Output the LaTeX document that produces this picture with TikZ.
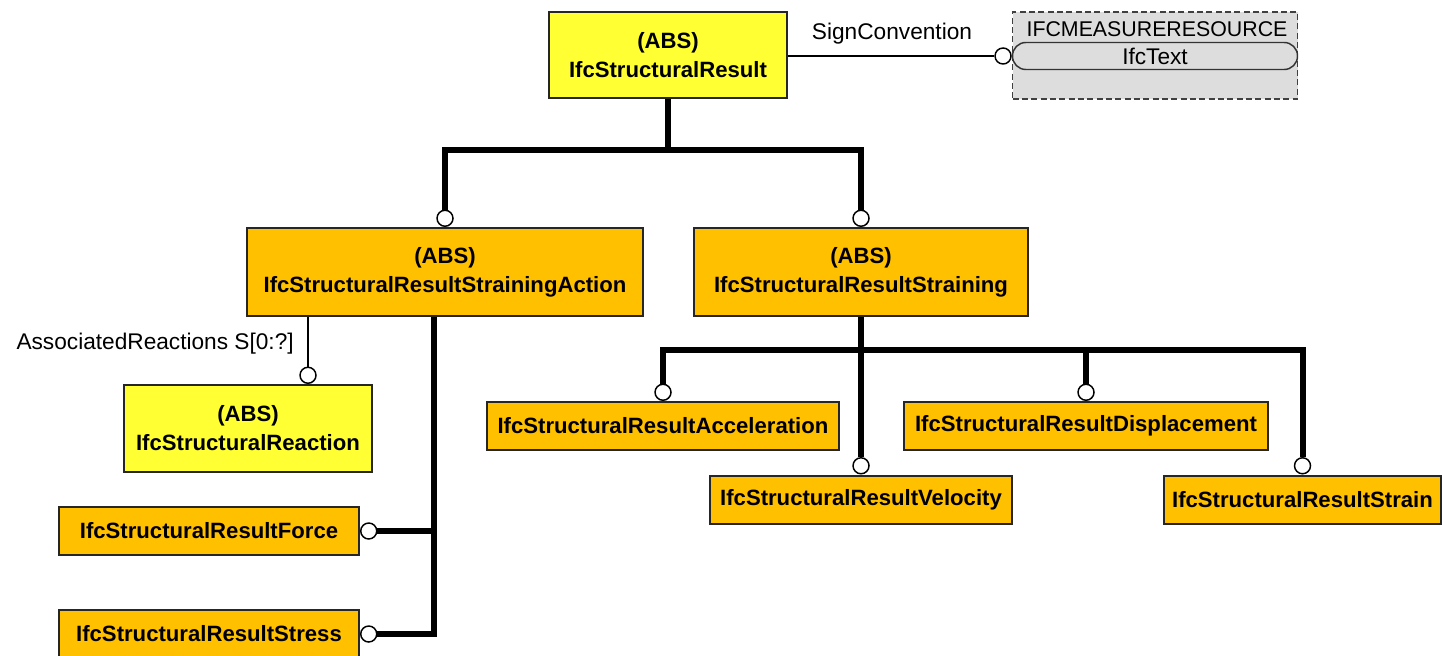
\documentclass[tikz,border=0pt]{standalone}
\usepackage{fontspec}
\setmainfont{Liberation Sans}
\definecolor{absyellow}{RGB}{255,255,51}
\definecolor{entorange}{RGB}{255,192,0}
\definecolor{extgray}{RGB}{221,221,221}
\begin{document}
\begin{tikzpicture}[x=0.75pt,y=-0.75pt,
 ent/.style={draw=black!85, line width=1.5pt, fill=entorange, font=\fontsize{16.6}{21.75}\selectfont\bfseries, align=center, inner sep=0pt},
 absent/.style={ent, fill=absyellow},
 bus/.style={line width=4.5pt},
 rel/.style={line width=1.1pt},
 port/.style={circle, draw, fill=white, line width=1.1pt, minimum size=12pt, inner sep=0pt},
 lbl/.style={font=\fontsize{17}{20}\selectfont, inner sep=0pt}]
\clip (0,0) rectangle (1442,656);
\fill[white] (0,0) rectangle (1442,656);
% external schema
\node[draw=black!75, dash pattern=on 4.5pt off 2.5pt, line width=1.2pt, fill=extgray, minimum width=213.75pt, minimum height=65.25pt, inner sep=0pt] (Ext) at (1155,55.5) {};
\node[lbl, font=\fontsize{16}{18}\selectfont] (ExtLbl) at (1157,29) {IFCMEASURERESOURCE};
\node[draw=black!80, line width=1.1pt, rounded corners=10pt, minimum width=213.75pt, minimum height=20.25pt, inner sep=0pt, font=\fontsize{17}{20}\selectfont] (Txt) at (1155,56) {IfcText};
% entities
\node[absent, minimum width=178.5pt, minimum height=64.5pt] (Root) at (668,55) {(ABS)\\IfcStructuralResult};
\node[ent, minimum width=297pt, minimum height=66pt] (SA) at (445,272) {(ABS)\\IfcStructuralResultStrainingAction};
\node[ent, minimum width=250.5pt, minimum height=66pt] (ST) at (861,272) {(ABS)\\IfcStructuralResultStraining};
\node[absent, minimum width=186pt, minimum height=65.25pt] (Rea) at (248,428.5) {(ABS)\\IfcStructuralReaction};
\node[ent, minimum width=225pt, minimum height=36pt] (For) at (209,531) {IfcStructuralResultForce};
\node[ent, minimum width=225pt, minimum height=36pt] (Str) at (209,634) {IfcStructuralResultStress};
\node[ent, minimum width=264pt, minimum height=36pt] (Acc) at (663,426) {IfcStructuralResultAcceleration};
\node[ent, minimum width=226.5pt, minimum height=36pt] (Vel) at (861,499.5) {IfcStructuralResultVelocity};
\node[ent, minimum width=273pt, minimum height=36pt] (Dis) at (1086,426) {IfcStructuralResultDisplacement};
\node[ent, minimum width=207.75pt, minimum height=36pt] (Stn) at (1302.5,499.5) {IfcStructuralResultStrain};
% ports
\coordinate (rx) at (308,0);
\coordinate (sx) at (434,0);
\node[port, anchor=east] (pE) at (Txt.west) {};
\node[port, anchor=south] (pSA) at (SA.north) {};
\node[port, anchor=south] (pST) at (ST.north) {};
\node[port, anchor=south] (pR) at (Rea.north -| rx) {};
\node[port, anchor=west] (pF) at (For.east) {};
\node[port, anchor=west] (pS) at (Str.east) {};
\node[port, anchor=south] (pA) at (Acc.north) {};
\node[port, anchor=south] (pV) at (Vel.north) {};
\node[port, anchor=south] (pD) at (Dis.north) {};
\node[port, anchor=south] (pN) at (Stn.north) {};
% connectors
\coordinate (b1) at (668,150);
\coordinate (b2) at (861,350);
\draw[rel] (Root.east |- pE) -- (pE.west);
\node[lbl] (sc) at (892,34) {SignConvention};
\draw[bus] (Root.south) -- (b1);
\draw[bus] (pSA.north) |- (b1) -| (pST.north);
\draw[rel] (SA.south -| rx) -- (pR.north);
\node[lbl, anchor=east] (ar) at (294,344) {AssociatedReactions S[0:?]};
\draw[bus] (SA.south -| sx) |- (pF.east);
\draw[bus] (SA.south -| sx) |- (pS.east);
\draw[bus] (ST.south) -- (pV.north);
\draw[bus] (pA.north) |- (b2) -| (pD.north);
\draw[bus] (b2) -| (pN.north);
\end{tikzpicture}
\end{document}
